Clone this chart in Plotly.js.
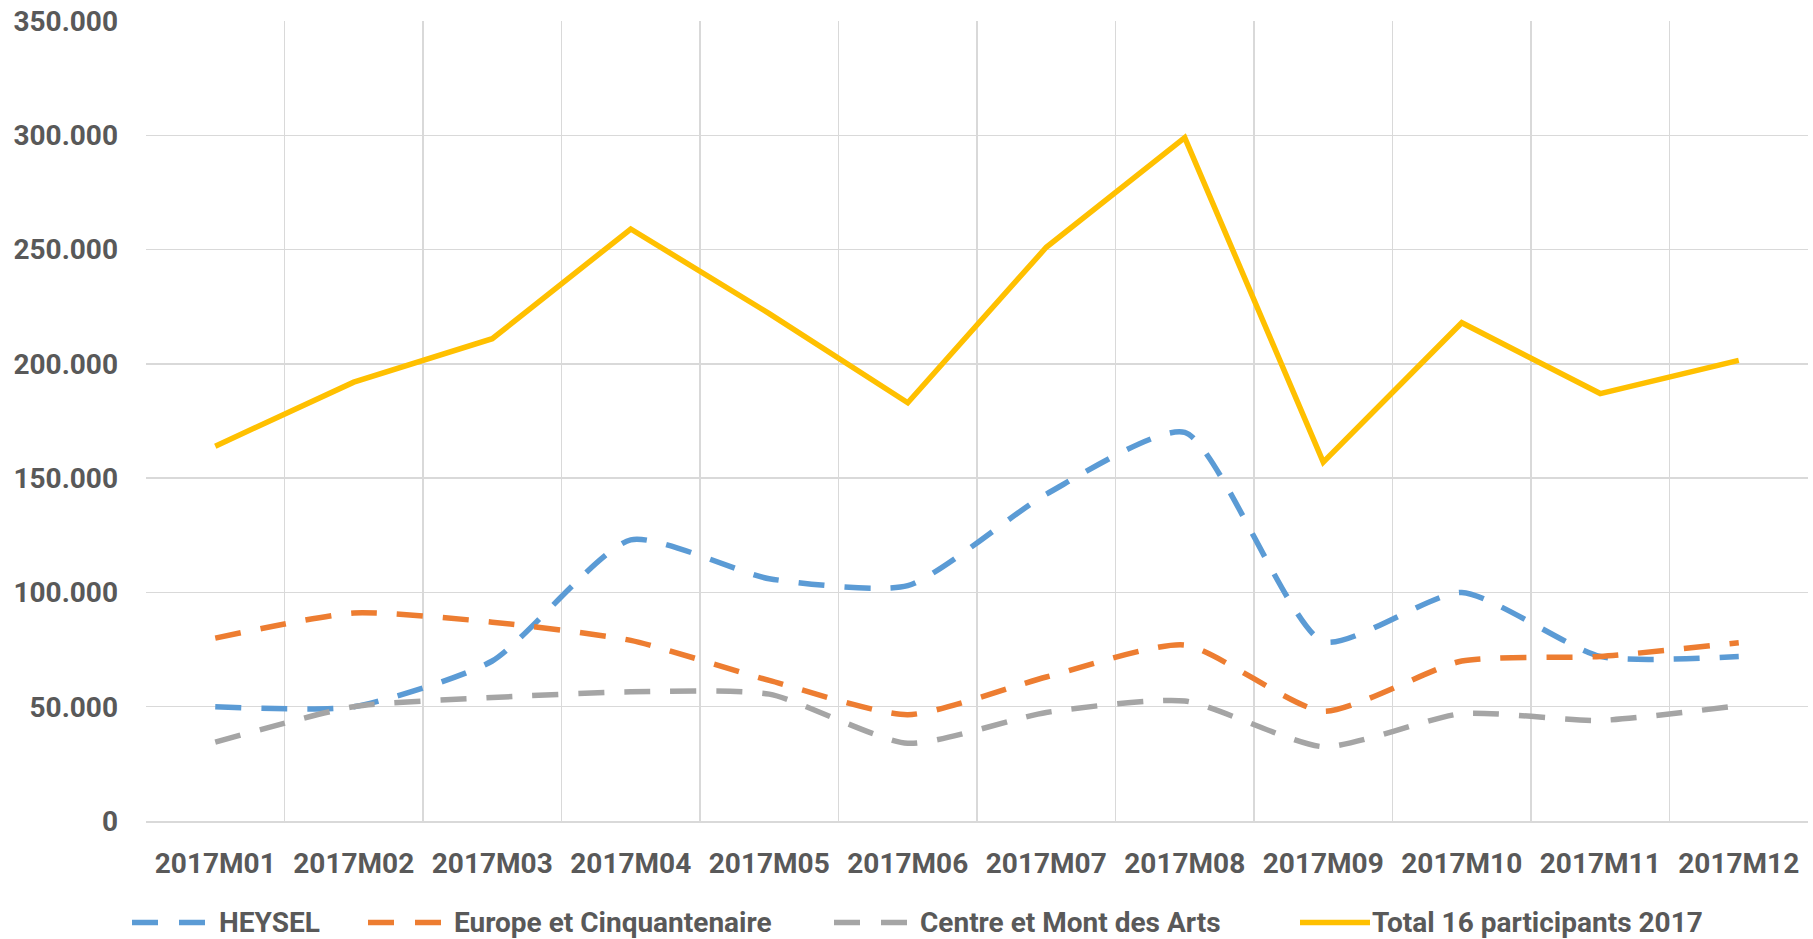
<!DOCTYPE html>
<html>
<head>
<meta charset="utf-8">
<script src="https://cdn.plot.ly/plotly-3.0.1.min.js"></script>
<style>
  html, body { margin: 0; padding: 0; background: #ffffff; }
  #chart { width: 1813px; height: 939px; }
</style>
</head>
<body>
<div id="chart"></div>
<script>
// ---- Data ----
const months = ['2017M01','2017M02','2017M03','2017M04','2017M05','2017M06','2017M07','2017M08','2017M09','2017M10','2017M11','2017M12'];
const heysel = [50000, 50000, 70000, 123000, 106000, 103000, 143000, 170000, 78500, 100000, 72000, 72000];
const europe = [80000, 91000, 87000, 79000, 61500, 46500, 63000, 77000, 48000, 70000, 72000, 78000];
const centre = [34500, 50000, 54000, 56500, 55500, 34000, 47500, 52500, 32500, 47000, 44000, 50500];
const total  = [164000, 192000, 211000, 259000, 222000, 183000, 251000, 299000, 157000, 218000, 187000, 201500];
const seriesNames = ['HEYSEL', 'Europe et Cinquantenaire', 'Centre et Mont des Arts', 'Total 16 participants 2017'];
const yTicks = [0, 50000, 100000, 150000, 200000, 250000, 300000, 350000];

// ---- Styling ----
const colors = ['#5B9BD5', '#ED7D31', '#A5A5A5', '#FFC000'];
const textColor = '#595959';
const fontFamily = 'Roboto, "Liberation Sans", Arial, sans-serif';
const dashPattern = '26px,20px';
const W = 1813, H = 939;
const M = {l: 146, r: 5, t: 21, b: 118};
const plotW = W - M.l - M.r, plotH = H - M.t - M.b;
const px2x = p => (p - M.l) / plotW;
const px2y = p => (H - M.b - p) / plotH;

const seriesValues = [heysel, europe, centre, total];
const traces = seriesValues.map((vals, i) => ({
  type: 'scatter',
  mode: 'lines',
  x: months,
  y: vals,
  name: seriesNames[i],
  line: {
    color: colors[i],
    width: 5.5,
    dash: i < 3 ? dashPattern : 'solid',
    shape: i < 3 ? 'spline' : 'linear',
    smoothing: 0.6
  },
  showlegend: false,
  hoverinfo: 'x+y'
}));

// ---- Custom legend (symbol lines + text) ----
const legendY = 922.5;
const legendItems = [
  {x0: 132, x1: 205, tx: 217},
  {x0: 368, x1: 441, tx: 452},
  {x0: 834, x1: 907, tx: 918},
  {x0: 1300, x1: 1370, tx: 1370}
];
const shapes = legendItems.map((it, i) => ({
  type: 'line', xref: 'paper', yref: 'paper',
  x0: px2x(it.x0), x1: px2x(it.x1), y0: px2y(legendY), y1: px2y(legendY),
  line: {color: colors[i], width: 5.5, dash: i < 3 ? '26px,21px' : 'solid'}
}));
const annotations = legendItems.map((it, i) => ({
  xref: 'paper', yref: 'paper',
  x: px2x(it.tx), y: px2y(legendY),
  xanchor: 'left', yanchor: 'middle',
  text: seriesNames[i], showarrow: false,
  font: {family: fontFamily, size: 28, color: textColor, weight: 700}
}));

const layout = {
  width: W, height: H,
  margin: M,
  paper_bgcolor: '#ffffff',
  plot_bgcolor: '#ffffff',
  separators: ',.',
  showlegend: false,
  font: {family: fontFamily, size: 28, color: textColor, weight: 700},
  xaxis: {
    type: 'category',
    range: [-0.5, 11.5],
    tickson: 'boundaries',
    showgrid: true,
    gridcolor: '#D9D9D9',
    gridwidth: 1.5,
    showline: true,
    linecolor: '#D9D9D9',
    linewidth: 2,
    ticks: '',
    ticklabelstandoff: 16,
    tickfont: {family: fontFamily, size: 28, color: textColor, weight: 700},
    zeroline: false,
    fixedrange: true
  },
  yaxis: {
    range: [0, 350000],
    tickvals: yTicks,
    tickformat: ',d',
    showgrid: true,
    gridcolor: '#D9D9D9',
    gridwidth: 1.5,
    zeroline: false,
    showline: false,
    ticks: '',
    ticklabelstandoff: 27,
    tickfont: {family: fontFamily, size: 28, color: textColor, weight: 700},
    fixedrange: true
  },
  shapes: shapes,
  annotations: annotations
};

Plotly.newPlot('chart', traces, layout, {displayModeBar: false, staticPlot: true});
</script>
</body>
</html>
